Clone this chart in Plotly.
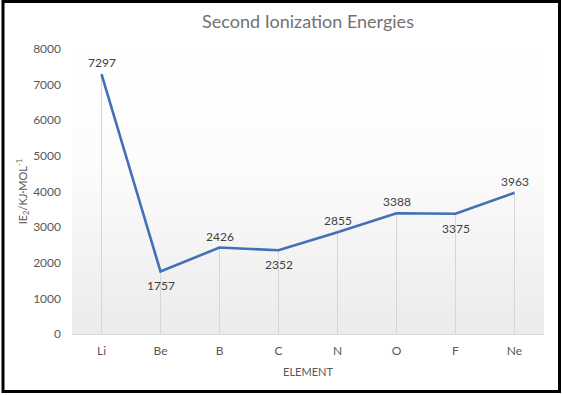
import plotly.graph_objects as go

elements = ["Li", "Be", "B", "C", "N", "O", "F", "Ne"]
ie2 = [7297, 1757, 2426, 2352, 2855, 3388, 3375, 3963]
label_above = [True, False, True, False, True, True, False, True]
y_ticks = [0, 1000, 2000, 3000, 4000, 5000, 6000, 7000, 8000]

W, H = 562, 395
ML, MR, MT, MB = 72, 18, 49, 61
pw, ph = W - ML - MR, H - MT - MB

xs = list(range(len(elements)))
xmin, xmax = -0.5, len(elements) - 0.5
ymin, ymax = y_ticks[0], y_ticks[-1]

fig = go.Figure()

# gradient plot-area background
fig.add_trace(go.Scatter(
    x=[xmin, xmax, xmax, xmin, xmin], y=[ymin, ymin, ymax, ymax, ymin],
    fill="toself", mode="none", hoverinfo="skip", showlegend=False,
    fillgradient=dict(type="vertical",
                      colorscale=[[0, "#ebebeb"], [0.6, "#fcfcfc"], [1, "#ffffff"]]),
))

# drop lines
dx, dy = [], []
for x, v in zip(xs, ie2):
    dx += [x, x, None]
    dy += [0, v, None]
fig.add_trace(go.Scatter(x=dx, y=dy, mode="lines", hoverinfo="skip",
                         line=dict(color="#d6d6d6", width=1), showlegend=False))

fig.add_trace(go.Scatter(
    x=xs, y=ie2, mode="lines",
    line=dict(color="#4270b6", width=2.6), showlegend=False,
))

for x, v, up in zip(xs, ie2, label_above):
    fig.add_annotation(x=x, y=v, xref="x", yref="y", text=str(v), showarrow=False,
                       yanchor="bottom" if up else "top", yshift=2 if up else -5,
                       font=dict(size=12, color="#404040"))

def px_x(p):
    return (p - ML) / pw

def px_y(p):
    return (H - MB - p) / ph

fig.add_shape(type="rect", xref="paper", yref="paper",
              x0=px_x(3), x1=px_x(559.5), y0=px_y(391.5), y1=px_y(1.5),
              line=dict(color="black", width=3), layer="above")

fig.update_layout(
    width=W, height=H,
    margin=dict(l=ML, r=MR, t=MT, b=MB),
    paper_bgcolor="white", plot_bgcolor="white",
    font=dict(family="Lato, Open Sans, sans-serif", color="#595959"),
    title=dict(text="Second Ionization Energies", x=0.5, xref="paper",
               y=1 - 22 / H, yanchor="middle",
               font=dict(size=18, color="#727272")),
    xaxis=dict(range=[xmin, xmax], tickvals=xs, ticktext=elements,
               showgrid=False, zeroline=False, showline=True,
               linecolor="#d9d9d9", linewidth=1, ticks="", ticklabelstandoff=6,
               tickfont=dict(size=12, color="#595959"),
               title=dict(text="ELEMENT", font=dict(size=11, color="#595959"), standoff=10)),
    yaxis=dict(range=[ymin, ymax], tickvals=y_ticks, showgrid=False,
               zeroline=False, showline=False, ticks="", ticklabelstandoff=10,
               tickfont=dict(size=12, color="#595959"),
               title=dict(text="IE<sub>2</sub>/KJ·MOL<sup>-1</sup>",
                          font=dict(size=11, color="#595959"), standoff=3)),
)

fig.write_html("out.html", config={"displayModeBar": False},
               post_script="document.body.style.margin='0';document.body.style.overflow='hidden';")
